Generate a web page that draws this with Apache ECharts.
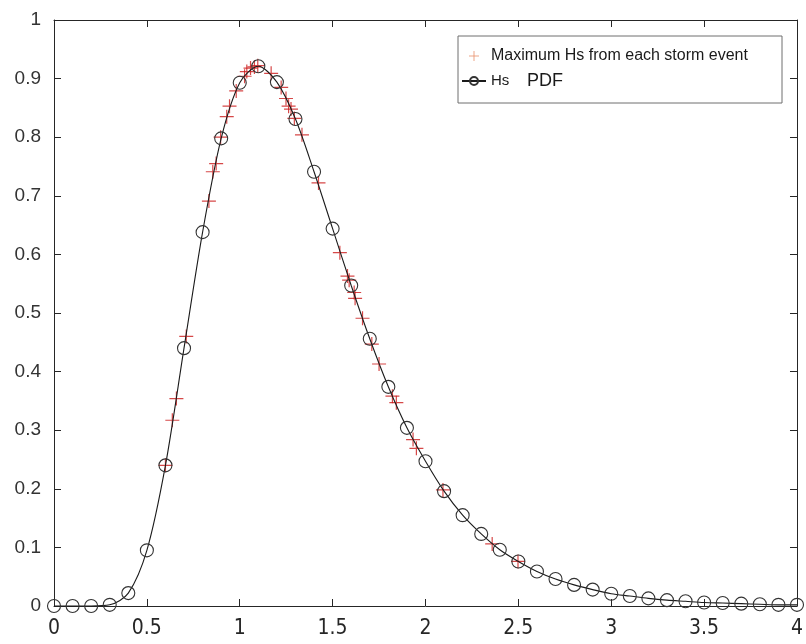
<!DOCTYPE html>
<html><head><meta charset="utf-8">
<script src="https://cdn.jsdelivr.net/npm/echarts@6/dist/echarts.min.js"></script>
<style>html,body{margin:0;padding:0;background:#fff}#c{width:806px;height:644px}</style>
</head><body><div id="c"></div>
<script>
// Hs PDF sample points (black circles)
const pdfX = [0,0.1,0.2,0.3,0.4,0.5,0.6,0.7,0.8,0.9,1.0,1.1,1.2,1.3,1.4,1.5,1.6,1.7,1.8,1.9,2.0,
              2.1,2.2,2.3,2.4,2.5,2.6,2.7,2.8,2.9,3.0,3.1,3.2,3.3,3.4,3.5,3.6,3.7,3.8,3.9,4.0];
const pdfY = [0,0,0,0.002,0.022,0.095,0.240,0.440,0.638,0.798,0.893,0.921,0.894,0.831,0.741,0.644,
              0.547,0.456,0.374,0.304,0.247,0.196,0.155,0.123,0.096,0.076,0.059,0.046,0.036,0.028,
              0.021,0.017,0.013,0.010,0.008,0.006,0.005,0.004,0.003,0.002,0.002];
// Maximum Hs from each storm event (red pluses)
const stormX = [0.600,0.637,0.659,0.712,0.834,0.855,0.873,0.897,0.930,0.945,0.981,1.026,1.038,1.058,
                1.079,1.097,1.169,1.223,1.249,1.263,1.276,1.294,1.335,1.424,1.539,1.580,1.589,1.616,
                1.621,1.661,1.711,1.750,1.822,1.843,1.933,1.951,2.094,2.359,2.498];
const stormY = [0.240,0.317,0.354,0.460,0.691,0.741,0.755,0.800,0.835,0.853,0.879,0.904,0.912,0.918,
                0.920,0.922,0.909,0.885,0.866,0.853,0.848,0.832,0.804,0.722,0.603,0.563,0.556,0.535,
                0.525,0.491,0.447,0.413,0.358,0.347,0.284,0.269,0.198,0.106,0.076];
const xTickLabels = ['0','0.5','1','1.5','2','2.5','3','3.5','4'];
const yTickLabels = ['0','0.1','0.2','0.3','0.4','0.5','0.6','0.7','0.8','0.9','1'];

const nameStorm = 'Maximum Hs from each storm event';
const namePdf = 'Hs PDF';
const plusPath = 'path://M0,5L10,5M5,0L5,10';

const chart = echarts.init(document.getElementById('c'), null, {renderer:'canvas'});
const axCol = '#262626';
const xLab = v => { const i = Math.round(v/0.5); return xTickLabels[i] !== undefined ? xTickLabels[i] : ''; };
const yLab = v => { const i = Math.round(v/0.1); return yTickLabels[i] !== undefined ? yTickLabels[i] : ''; };
const baseX = {type:'value', min:0, max:4, interval:0.5, splitLine:{show:false},
  axisLine:{show:true, onZero:false, lineStyle:{color:axCol, width:1}},
  axisTick:{show:true, inside:true, length:7, lineStyle:{color:axCol}}};
const baseY = {type:'value', min:0, max:1, interval:0.1, splitLine:{show:false},
  axisLine:{show:true, onZero:false, lineStyle:{color:axCol, width:1}},
  axisTick:{show:true, inside:true, length:7, lineStyle:{color:axCol}}};

chart.setOption({
  animation:false,
  backgroundColor:'#fff',
  grid:{left:54, right:7, top:20, bottom:38},
  xAxis:[
    Object.assign({}, baseX, {position:'bottom',
      axisLabel:{show:true, margin:12, formatter:xLab, color:'#262626', fontSize:21,
        fontFamily:"'Liberation Sans Narrow','Arial Narrow','DejaVu Sans Condensed',sans-serif"}}),
    Object.assign({}, baseX, {position:'top', axisLabel:{show:false}})
  ],
  yAxis:[
    Object.assign({}, baseY, {position:'left',
      axisLabel:{show:true, margin:13, formatter:yLab, color:'#333', fontSize:19,
        fontFamily:"'Liberation Sans',Arial,sans-serif"}}),
    Object.assign({}, baseY, {position:'right', axisLabel:{show:false}})
  ],
  graphic:{elements:[{type:'rect', z:3, shape:{x:458, y:36, width:324, height:67},
    style:{fill:'#fff', stroke:'#6e6e6e', lineWidth:1}}]},
  legend:{
    z:10, left:461, top:48, orient:'vertical', padding:0, itemGap:8,
    itemWidth:24, itemHeight:10,
    data:[
      {name:nameStorm, icon:plusPath, itemStyle:{color:'none', borderColor:'#e8906a', borderWidth:1}},
      {name:namePdf}
    ],
    formatter: n => n === namePdf ? '{a|Hs}{b|PDF}' : n,
    textStyle:{fontSize:16, color:'#1a1a1a', fontFamily:"'Liberation Sans',Arial,sans-serif",
      rich:{a:{fontSize:15, width:36, color:'#1a1a1a', fontFamily:"'Liberation Sans',Arial,sans-serif"},
            b:{fontSize:18, color:'#1a1a1a', fontFamily:"'Liberation Sans',Arial,sans-serif"}}}
  },
  series:[
    {name:nameStorm, type:'scatter', symbol:plusPath, symbolSize:14, z:3,
      data: stormX.map((x,i)=>[x, stormY[i]]),
      itemStyle:{color:'none', borderColor:'#cc1a1a', borderWidth:1.2}},
    {name:namePdf, type:'line', smooth:0.3, clip:false, z:4,
      symbol:'circle', symbolSize:13, showSymbol:true,
      data: pdfX.map((x,i)=>[x, pdfY[i]]),
      lineStyle:{color:'#1a1a1a', width:1.1},
      itemStyle:{color:'rgba(0,0,0,0)', borderColor:'#333', borderWidth:1.1}}
  ]
});
</script></body></html>
